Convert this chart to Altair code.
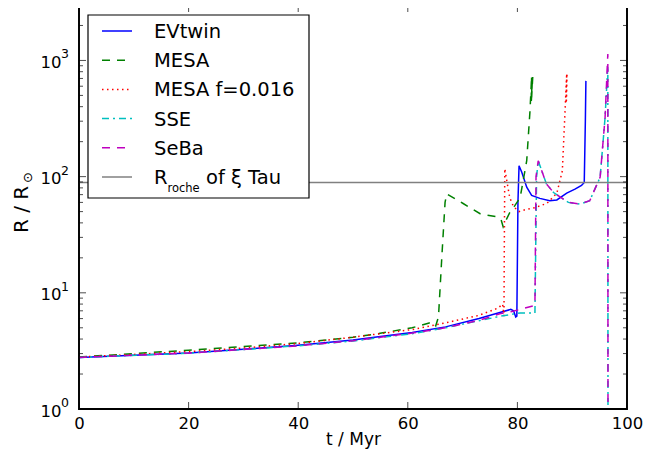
import altair as alt
import pandas as pd

# ---------------- data ----------------
T_EV = [0, 10, 20, 30, 40, 50, 55, 60.8, 66.9, 73, 76, 78.8, 79.3, 79.7, 79.9, 80.1, 80.3,
        80.8, 81.7, 82.6, 84.1, 85.9, 87.2, 89.0, 90.5, 91.7, 92.2, 92.4, 92.5]
R_EV = [2.78, 2.9, 3.04, 3.27, 3.54, 3.92, 4.2, 4.55, 5.09, 6.0, 6.6, 7.2, 7.0, 6.2, 6.3, 60, 124,
        109, 81, 69, 65, 62, 63, 72, 78, 84, 89, 300, 667]

T_MESA = [0, 10, 20, 30, 40, 50, 54.7, 60.8, 63.9, 64.6, 65.1, 65.6, 66.2, 66.8, 67.1, 70.1,
          73.2, 76.3, 77.0, 77.4, 77.9, 78.6, 79.5, 80.5, 81.7, 82.3, 82.6, 82.5, 82.7, 82.55,
          82.75, 82.6, 82.8]
R_MESA = [2.80, 3.0, 3.21, 3.45, 3.71, 4.15, 4.46, 5.0, 5.5, 5.6, 5.2, 6.2, 20, 60, 71, 58.7,
          47.9, 45, 43, 37, 42, 49, 56, 66, 137, 369, 736, 420, 700, 450, 740, 480, 720]

T_MF = [0, 10, 20, 30, 40, 50, 60.8, 66, 73, 76.5, 77.3, 77.55, 77.6, 77.7, 78.1, 78.6, 79.3,
        80.3, 81.5, 83.2, 85.4, 87.2, 88.2, 88.7, 89.0, 88.9, 89.0, 88.95, 89.05]
R_MF = [2.80, 2.95, 3.12, 3.35, 3.66, 4.15, 4.83, 5.4, 6.4, 7.4, 8.0, 6.3, 20, 117, 90, 66, 55,
        50, 52, 54, 59, 72, 112, 370, 766, 430, 740, 450, 760]

T_SSE = [0, 20, 40, 50, 60.8, 66.9, 73, 77, 79.5, 80.5, 83.2, 83.5, 83.8, 85.3, 86.6, 89.3,
         91.4, 93.2, 95.1, 96.0, 96.5, 96.55]
R_SSE = [2.78, 3.02, 3.5, 3.85, 4.45, 5.0, 5.75, 6.3, 6.6, 6.7, 6.7, 100, 137, 86.5, 73, 60,
         58, 62, 99, 323, 895, 0.01]

T_SEBA = [0, 20, 40, 50, 60.8, 66.9, 73, 75, 76.8, 79, 80.5, 83.2, 83.4, 83.8, 85.3, 86.6,
          89.3, 91.4, 93.2, 95.1, 96.0, 96.5, 96.55]
R_SEBA = [2.78, 3.03, 3.5, 3.87, 4.5, 5.0, 5.8, 6.2, 6.6, 6.9, 7.2, 7.8, 100, 137, 86.5, 73,
          60, 58, 62, 99, 323, 1137, 0.01]

ROCHE_R = 89

X_TICKS = [0, 20, 40, 60, 80, 100]
Y_MAJOR = [1, 10, 100, 1000]
Y_BASE = "10"
Y_EXP = ["0", "1", "2", "3"]
Y_MINOR = [2, 3, 4, 5, 6, 7, 8, 9, 20, 30, 40, 50, 60, 70, 80, 90,
           200, 300, 400, 500, 600, 700, 800, 900, 2000, 3000]

SERIES = [
    ("EVtwin", T_EV, R_EV, "#0000ff", None),
    ("MESA", T_MESA, R_MESA, "#008000", [8, 7]),
    ("MESA f=0.016", T_MF, R_MF, "#ff0000", [1.5, 3.5]),
    ("SSE", T_SSE, R_SSE, "#00bfbf", [7, 4, 2, 4]),
    ("SeBa", T_SEBA, R_SEBA, "#bf00bf", [8, 7]),
]
ROCHE_COLOR = "#808080"

FONT = "DejaVu Sans"
W, H = 548, 404

xs = alt.Scale(domain=[0, 100], nice=False, zero=False)
ys = alt.Scale(type="log", domain=[1, 3000], nice=False)

x_axis = alt.Axis(values=X_TICKS, format="d", ticks=False, tickSize=0, domain=False, grid=False,
                  labelFontSize=16.5, labelFont=FONT, labelColor="black", labelPadding=6,
                  labelFlush=False, labelOverlap=False,
                  title="t / Myr", titleFont=FONT, titleFontSize=17, titleFontWeight="normal",
                  titleColor="black", titleX=W / 2, titleY=30, titleBaseline="middle",
                  titleAlign="center")
y_axis = alt.Axis(values=Y_MAJOR, labelExpr=f"'{Y_BASE}'", ticks=False, tickSize=0, domain=False,
                  grid=False, labelFontSize=16.5, labelFont=FONT, labelColor="black",
                  labelPadding=18, labelOffset=2, labelFlush=False, labelOverlap=False,
                  title="")

X = lambda: alt.X("t:Q", scale=xs, axis=x_axis)
Y = lambda: alt.Y("R:Q", scale=ys, axis=y_axis)

layers = []
for name, t, r, color, dash in SERIES:
    df = pd.DataFrame({"t": t, "R": r, "i": list(range(len(t)))})
    kw = dict(color=color, strokeWidth=1.5, clip=True)
    if dash:
        kw["strokeDash"] = dash
    layers.append(
        alt.Chart(df).mark_line(**kw).encode(x=X(), y=Y(), order="i:Q")
    )

# Roche radius line
layers.append(
    alt.Chart(pd.DataFrame({"R": [ROCHE_R]})).mark_rule(color=ROCHE_COLOR, strokeWidth=1.5)
    .encode(y=Y())
)

# inward ticks on all four sides
xt = pd.DataFrame({"t": X_TICKS})
for yv in (0, H):
    layers.append(
        alt.Chart(xt).mark_tick(color="black", size=14, thickness=1, clip=True)
        .encode(x=X(), y=alt.value(yv))
    )
for vals, sz in ((Y_MAJOR, 14), (Y_MINOR, 8)):
    ydf = pd.DataFrame({"R": vals})
    for xv in (0, W):
        layers.append(
            alt.Chart(ydf).mark_tick(color="black", size=sz, thickness=1, clip=True)
            .encode(y=Y(), x=alt.value(xv))
        )

# exponents of the y tick labels
layers.append(
    alt.Chart(pd.DataFrame({"R": Y_MAJOR, "e": Y_EXP}))
    .mark_text(align="left", baseline="middle", fontSize=12.5, font=FONT, color="black", dy=-6)
    .encode(y=Y(), x=alt.value(-18), text="e:N")
)

# y axis title  R / R_sun
one = alt.Data(values=[{"a": 1}])
layers.append(
    alt.Chart(one).mark_text(align="left", baseline="middle", angle=270, fontSize=20,
                             font=FONT, color="black")
    .encode(x=alt.value(-57), y=alt.value(228), text=alt.value("R / R"))
)
layers.append(
    alt.Chart(one).mark_text(align="left", baseline="middle", angle=270, fontSize=13,
                             font=FONT, color="black")
    .encode(x=alt.value(-51), y=alt.value(178), text=alt.value("\u2299"))
)

# frame
layers.append(
    alt.Chart(one).mark_rect(fillOpacity=0, stroke="black", strokeWidth=1.8).encode(
        x=alt.value(0), x2=alt.value(W), y=alt.value(0), y2=alt.value(H))
)

# custom legend
layers.append(
    alt.Chart(one).mark_rect(fill="white", stroke="black", strokeWidth=1.2).encode(
        x=alt.value(9), x2=alt.value(230), y=alt.value(10), y2=alt.value(193))
)
entries = [(s[0], s[3], s[4]) for s in SERIES] + [(None, ROCHE_COLOR, None)]
for i, (name, color, dash) in enumerate(entries):
    ly = 26 + 29.2 * i
    kw = dict(color=color, strokeWidth=1.5)
    if dash:
        kw["strokeDash"] = dash
    layers.append(
        alt.Chart(one).mark_rule(**kw).encode(x=alt.value(23), x2=alt.value(53), y=alt.value(ly))
    )
    if name is not None:
        layers.append(
            alt.Chart(one).mark_text(align="left", baseline="alphabetic", fontSize=19.5,
                                     font=FONT, color="black")
            .encode(x=alt.value(75), y=alt.value(ly + 7), text=alt.value(name))
        )
    else:
        for txt, xx, dy, fs in (("R", 75, 7, 19.5), ("roche", 88.5, 14.5, 11.5),
                                ("of \u03be Tau", 127, 7, 19.5)):
            layers.append(
                alt.Chart(one).mark_text(align="left", baseline="alphabetic", fontSize=fs,
                                         font=FONT, color="black")
                .encode(x=alt.value(xx), y=alt.value(ly + dy), text=alt.value(txt))
            )

chart = alt.layer(*layers).properties(
    width=W, height=H,
    background="white",
    autosize=alt.AutoSizeParams(type="none"),
    padding={"left": 71, "top": -3, "right": 30, "bottom": 45},
).configure_view(stroke="black", strokeWidth=1.5)

chart.save("out.html", embed_options={"renderer": "svg", "actions": False})
